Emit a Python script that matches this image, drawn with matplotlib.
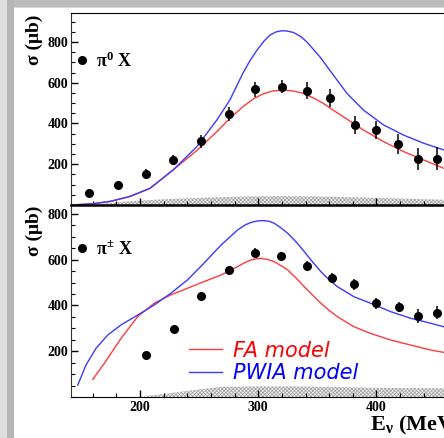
import numpy as np
import matplotlib
matplotlib.use('Agg')
import matplotlib.pyplot as plt
from matplotlib.patches import Rectangle
from matplotlib.lines import Line2D
from matplotlib.ticker import MultipleLocator
from matplotlib.transforms import Bbox, TransformedBbox

plt.rcParams['mathtext.fontset'] = 'custom'
plt.rcParams['mathtext.rm'] = 'Liberation Serif:bold'
plt.rcParams['mathtext.it'] = 'Liberation Serif:bold'
plt.rcParams['mathtext.bf'] = 'Liberation Serif:bold'
plt.rcParams['hatch.linewidth'] = 0.5

# ---- pi0 X data (top panel) ----
e_pi0 = [157, 181, 205, 228, 252, 275, 297, 320, 341, 361, 382, 400, 418, 435, 451]
s_pi0 = [57, 98, 153, 222, 312, 445, 568, 580, 561, 525, 392, 368, 299, 227, 227]
err_pi0 = [8, 12, 23, 25, 30, 35, 37, 32, 41, 43, 45, 45, 49, 55, 57]

fa_top_e = [141.6, 160, 175, 191.5, 208.5, 228, 248, 265, 276, 287, 296, 304, 312, 321, 330, 338, 346, 355, 363, 372, 389, 406, 423, 440, 457, 475, 490]
fa_top_s = [0, 6, 18, 42, 82, 172, 267, 360, 425, 482, 521, 545, 559, 564, 559, 548, 527, 499, 467, 433, 368, 311, 262, 221, 180, 150, 130]
pw_top_e = [141.6, 160, 175, 191.5, 208.5, 228, 248, 265, 276, 287, 293, 299, 305, 310, 315, 320, 325, 330, 336, 341, 352, 363.5, 375, 389, 406, 423, 440, 457, 475, 490]
pw_top_s = [0, 6, 18, 42, 82, 172, 286, 417, 515, 646, 708, 760, 805, 834, 849, 855, 853, 846, 826, 801, 728, 638, 548, 466, 393, 343, 303, 270, 240, 220]

band_top_e = [155, 175, 190, 220, 250, 290, 320, 350, 400, 430, 460, 490]
band_top_s = [0, 10, 18, 28, 35, 42, 44, 42, 35, 30, 25, 22]

# ---- pi+- X data (bottom panel) ----
e_pic = [205, 228.5, 252, 275, 297, 319, 341, 362, 381, 400, 419, 435, 451]
s_pic = [185, 297, 440, 555, 631, 616, 574, 520, 492, 409, 392, 354, 369]
err_pic = [6, 8, 10, 15, 18, 18, 22, 22, 24, 23, 22, 29, 29]

pw_bot_e = [147.3, 154.3, 162.8, 172.7, 183.9, 198, 212, 226, 240, 254, 268.5, 282.6, 289, 294, 299, 304, 309, 313.6, 319, 325, 332, 339, 346, 353, 360, 367, 381, 395, 412, 429, 446, 457, 475, 490]
pw_bot_s = [52, 140, 213, 271, 315, 358, 402, 453, 511, 584, 664, 730, 752, 763, 769, 771, 768, 759, 740, 715, 678, 635, 590, 548, 512, 482, 438, 410, 373, 344, 322, 307, 290, 280]
fa_bot_e = [160, 169.8, 183.9, 198, 212, 226, 240, 254, 268.5, 282.6, 289, 294, 298, 302.4, 308, 313.6, 319, 325, 332, 339, 346, 353, 360, 367, 381, 395, 412, 429, 446, 457, 475, 490]
fa_bot_s = [77, 147, 256, 351, 410, 446, 475, 504, 533, 570, 588, 599, 604, 606, 601, 591, 575, 555, 520, 482, 445, 410, 378, 351, 307, 278, 249, 227, 205, 195, 185, 178]

band_bot_e = [204, 215, 230, 245, 268, 300, 330, 360, 400, 460, 490]
band_bot_s = [4, 10, 20, 30, 44, 46, 46, 44, 40, 38, 36]

W, H = 444, 438
fx = lambda px: px / W
fy = lambda py: 1 - py / H

red = '#ff3b3b'
blue = '#3b3bff'
tickfont = {'family': 'Liberation Serif', 'weight': 'bold', 'size': 10}

fig = plt.figure(figsize=(W / 100, H / 100), dpi=100)
fig.patch.set_facecolor('white')

# slide frame
fig.add_artist(Rectangle((0, fy(8)), 1, 8 / H, transform=fig.transFigure, color='#d6d6d6', lw=0))
fig.add_artist(Rectangle((0, fy(7)), 1, 7 / H, transform=fig.transFigure, color='#bcbcbc', lw=0))
fig.add_artist(Rectangle((0, 0), 7 / W, 1, transform=fig.transFigure, color='#dedede', lw=0))
fig.add_artist(Rectangle((7 / W, 0), 7 / W, 1, transform=fig.transFigure, color='#b6b6b6', lw=0))

x_left, x_right = 71, 480
xlim = (141.6, 141.6 + (x_right - x_left) / 1.182)

ax2 = fig.add_axes([fx(x_left), fy(397), (x_right - x_left) / W, 192 / H])
ax1 = fig.add_axes([fx(x_left), fy(205), (x_right - x_left) / W, 192 / H])

for ax, ymax in ((ax1, 942), (ax2, 839)):
    ax.set_xlim(*xlim)
    ax.set_ylim(0, ymax)
    ax.xaxis.set_major_locator(MultipleLocator(100))
    ax.xaxis.set_minor_locator(MultipleLocator(20))
    ax.yaxis.set_major_locator(MultipleLocator(200))
    ax.yaxis.set_minor_locator(MultipleLocator(50))
    ax.tick_params(which='major', direction='in', length=5, width=1, pad=2)
    ax.tick_params(which='minor', direction='in', length=3, width=0.8)
    ax.spines['right'].set_visible(False)

ax1.set_yticks([200, 400, 600, 800])
ax2.set_yticks([200, 400, 600, 800])
for ax in (ax1, ax2):
    ax.set_yticklabels(['200', '400', '600', '800'], fontdict=tickfont)
ax1.tick_params(axis='x', labelbottom=False)
ax2.set_xticks([200, 300, 400])
ax2.set_xticklabels(['200', '300', '400'], fontdict=tickfont)
ax2.tick_params(axis='x', which='major', pad=3)
ax1.spines['bottom'].set_linewidth(1.8)
ax2.spines['top'].set_visible(False)
ax1.spines['left'].set_color('#333333')
ax2.spines['left'].set_color('#333333')

# top panel
ax1.fill_between(band_top_e, 0, band_top_s, facecolor='#eeeeee', edgecolor='#a0a0a0',
                 hatch='xxxxxxxxx', linewidth=0)
ax1.plot(fa_top_e, fa_top_s, color=red, lw=1.0)
ax1.plot(pw_top_e, pw_top_s, color=blue, lw=1.0)
ax1.errorbar(e_pi0, s_pi0, yerr=err_pi0, fmt='o', color='black', ms=5.5,
             elinewidth=1.1, capsize=0, zorder=5)
h0 = Line2D([], [], marker='o', color='black', ls='none', ms=5.5)
ax1.legend([h0], [r'$\pi^{0}$ X'], loc='center left',
           bbox_to_anchor=(fx(77), fy(61)), bbox_transform=fig.transFigure,
           frameon=False, handlelength=0.5, handletextpad=0.55, borderpad=0,
           borderaxespad=0, prop={'family': 'Liberation Serif', 'weight': 'bold', 'size': 13})

# bottom panel
ax2.fill_between(band_bot_e, 0, band_bot_s, facecolor='#eeeeee', edgecolor='#a0a0a0',
                 hatch='xxxxxxxxx', linewidth=0)
l_fa, = ax2.plot(fa_bot_e, fa_bot_s, color=red, lw=1.0)
l_pw, = ax2.plot(pw_bot_e, pw_bot_s, color=blue, lw=1.0)
ax2.errorbar(e_pic, s_pic, yerr=err_pic, fmt='o', color='black', ms=5.5,
             elinewidth=1.1, capsize=0, zorder=5)
hc = Line2D([], [], marker='o', color='black', ls='none', ms=5.5)
ax2.legend([hc], [r'$\pi^{\pm}$ X'], loc='center left',
           bbox_to_anchor=(fx(77), fy(249)), bbox_transform=fig.transFigure,
           frameon=False, handlelength=0.5, handletextpad=0.55, borderpad=0,
           borderaxespad=0, prop={'family': 'Liberation Serif', 'weight': 'bold', 'size': 13})
fig.legend([l_fa, l_pw], ['FA model', 'PWIA model'], loc='center left',
           bbox_to_anchor=(fx(189), fy(362)), frameon=False,
           handlelength=1.6, handletextpad=0.5, borderpad=0, borderaxespad=0,
           labelspacing=0.12, labelcolor=['#ff0000', '#0000ff'],
           prop={'family': 'DejaVu Sans', 'style': 'italic', 'size': 15})

# axis titles
fig.text(fx(34), fy(40), 'σ (μb)', rotation=90, ha='center', va='center',
         family='Liberation Serif', weight='bold', size=14)
t = fig.text(fx(34), fy(231), 'σ (μb)', rotation=90, ha='center', va='center',
             family='Liberation Serif', weight='bold', size=14)
t.set_clip_box(TransformedBbox(Bbox([[0, 0], [1, fy(205.5)]]), fig.transFigure))
t.set_clip_on(True)
fig.text(fx(370), fy(425), r'E$_{\nu}$ (MeV)', ha='left', va='center',
         family='Liberation Serif', weight='bold', size=16)

fig.savefig('out.png', dpi=100)
